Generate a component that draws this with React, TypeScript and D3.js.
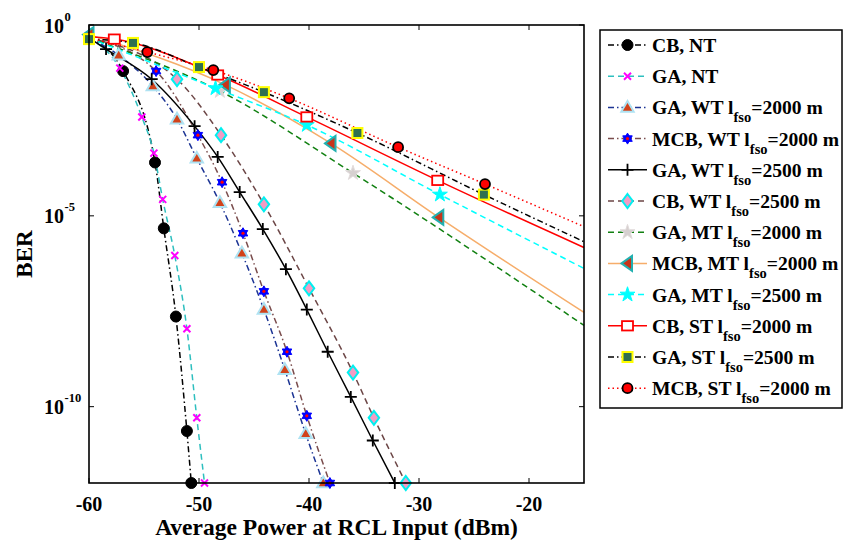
import React from 'react';
import * as d3 from 'd3';

// ---------- data ----------
const X_TICKS = [-60, -50, -40, -30, -20];
const Y_TICK_EXPS = [0, -5, -10];

const cbNtX = [-60, -56.9, -54.0, -53.2, -52.1, -51.1, -50.7];
const cbNtBer = [0.457, 6.2e-2, 2.5e-4, 4.7e-6, 2.3e-8, 2.3e-11, 1e-12];

const gaNtX = [-60, -57.2, -55.2, -54.1, -53.3, -52.2, -51.1, -50.2, -49.5];
const gaNtBer = [0.457, 7.4e-2, 3.9e-3, 4.4e-4, 2.7e-5, 9.1e-7, 1.1e-8, 5.1e-11, 1e-12];

const gaWt2000X = [-60, -57.3, -54.2, -52.0, -50.2, -48.1, -46.1, -44.1, -42.2, -40.3, -38.7];
const gaWt2000Ber = [0.457, 0.162, 2.5e-2, 3.4e-3, 3.2e-4, 2.2e-5, 1.05e-6, 3.5e-8, 9.3e-10, 1.95e-11, 1e-12];

const mcbWt2000X = [-60, -53.9, -50.1, -47.9, -46.0, -44.1, -42.0, -40.2, -38.1];
const mcbWt2000Ber = [0.457, 6.2e-2, 1.3e-3, 7.6e-5, 3.5e-6, 1.05e-7, 2.75e-9, 5.75e-11, 1e-12];

const gaWt2500X = [-60, -58.45, -54.3, -50.4, -48.3, -46.3, -44.2, -42.1, -40.2, -38.3, -36.2, -34.2, -32.2];
const gaWt2500Ber = [0.457, 0.234, 3.8e-2, 2.24e-3, 3.5e-4, 4.2e-5, 4.5e-6, 4.0e-7, 3.5e-8, 2.75e-9, 1.8e-10, 1.3e-11, 1e-12];

const cbWt2500X = [-60, -52.0, -48.0, -44.1, -40.0, -36.0, -34.1, -31.2];
const cbWt2500Ber = [0.457, 3.8e-2, 1.3e-3, 2.0e-5, 1.26e-7, 7.8e-10, 5.1e-11, 1e-12];

const gaMt2000X = [-60, -48.1, -36.0, -15];
const gaMt2000Ber = [0.457, 1.86e-2, 1.32e-4, 1.35e-8];

const mcbMt2000X = [-60, -47.6, -38.0, -28.2, -15];
const mcbMt2000Ber = [0.56, 2.7e-2, 7.9e-4, 9.1e-6, 2.95e-8];

const gaMt2500X = [-60, -48.5, -40.2, -28.1, -15];
const gaMt2500Ber = [0.457, 2.2e-2, 2.4e-3, 3.6e-5, 4.2e-7];

const cbSt2000X = [-60, -57.7, -48.3, -40.2, -28.3, -15];
const cbSt2000Ber = [0.5, 0.427, 4.9e-2, 3.9e-3, 8.5e-5, 1.48e-6];

const gaSt2500X = [-60, -56.0, -50.0, -44.1, -35.6, -24.1, -15];
const gaSt2500Ber = [0.427, 0.339, 7.9e-2, 1.74e-2, 1.48e-3, 3.6e-5, 2.1e-6];

const mcbSt2000X = [-60, -54.7, -48.7, -41.8, -31.9, -24.0, -15];
const mcbSt2000Ber = [0.457, 0.195, 6.6e-2, 1.2e-2, 6.3e-4, 6.8e-5, 5.2e-6];

const LEGEND_MAIN = [
  'CB, NT', 'GA, NT', 'GA, WT l', 'MCB, WT l', 'GA, WT l', 'CB, WT l',
  'GA, MT l', 'MCB, MT l', 'GA, MT l', 'CB, ST l', 'GA, ST l', 'MCB, ST l',
];
const LEGEND_TAIL = [
  '', '', '=2000 m', '=2000 m', '=2500 m', '=2500 m',
  '=2000 m', '=2000 m', '=2500 m', '=2000 m', '=2500 m', '=2000 m',
];

// ---------- styles ----------
const DASH = '6,4';
const DASHDOT = '6,3,1.5,3';
const DOT = '1.5,3';

type S = {
  xs: number[]; ys: number[]; color: string; dash: string | null;
  marker: string; mFill: string; mStroke: string; mSw: number; mSize: number;
  skipFirst: boolean; skipLast: boolean;
};

const series: S[] = [
  { xs: cbNtX, ys: cbNtBer, color: '#000', dash: DASHDOT, marker: 'circle', mFill: '#000', mStroke: '#000', mSw: 1, mSize: 5.5, skipFirst: true, skipLast: false },
  { xs: gaNtX, ys: gaNtBer, color: '#2ebfbf', dash: DASH, marker: 'x', mFill: 'none', mStroke: '#ff00ff', mSw: 2, mSize: 3.5, skipFirst: true, skipLast: false },
  { xs: gaWt2000X, ys: gaWt2000Ber, color: '#1c3494', dash: DASHDOT, marker: 'triUp', mFill: '#d2421a', mStroke: '#aee2f2', mSw: 2, mSize: 6.5, skipFirst: true, skipLast: false },
  { xs: mcbWt2000X, ys: mcbWt2000Ber, color: '#7a4c4c', dash: DASHDOT, marker: 'hexagram', mFill: '#0000ff', mStroke: '#0000ff', mSw: 1, mSize: 5.5, skipFirst: true, skipLast: false },
  { xs: gaWt2500X, ys: gaWt2500Ber, color: '#000', dash: null, marker: 'plus', mFill: 'none', mStroke: '#000', mSw: 1.8, mSize: 6, skipFirst: true, skipLast: false },
  { xs: cbWt2500X, ys: cbWt2500Ber, color: '#6c4646', dash: DASH, marker: 'diamond', mFill: '#f29cc4', mStroke: '#00f0f0', mSw: 2, mSize: 7, skipFirst: true, skipLast: false },
  { xs: gaMt2000X, ys: gaMt2000Ber, color: '#118011', dash: DASH, marker: 'star', mFill: '#d6d0d0', mStroke: '#e2dcdc', mSw: 1, mSize: 5.6, skipFirst: true, skipLast: true },
  { xs: mcbMt2000X, ys: mcbMt2000Ber, color: '#f6ad6a', dash: null, marker: 'triLeft', mFill: '#c8341a', mStroke: '#22b0b0', mSw: 2, mSize: 7.5, skipFirst: false, skipLast: true },
  { xs: gaMt2500X, ys: gaMt2500Ber, color: '#00ffff', dash: DASH, marker: 'star', mFill: '#00ffff', mStroke: '#00ffff', mSw: 1, mSize: 5.6, skipFirst: true, skipLast: true },
  { xs: cbSt2000X, ys: cbSt2000Ber, color: '#ff0000', dash: null, marker: 'squareOpen', mFill: '#fff', mStroke: '#ff0000', mSw: 1.8, mSize: 5.5, skipFirst: true, skipLast: true },
  { xs: gaSt2500X, ys: gaSt2500Ber, color: '#000', dash: DASHDOT, marker: 'square', mFill: '#2f7050', mStroke: '#ffff00', mSw: 2, mSize: 5, skipFirst: false, skipLast: true },
  { xs: mcbSt2000X, ys: mcbSt2000Ber, color: '#ff0000', dash: DOT, marker: 'circle', mFill: '#ff0000', mStroke: '#000', mSw: 1.8, mSize: 5, skipFirst: true, skipLast: true },
];

// ---------- layout ----------
const W = 848, H = 542;
const PL = 89, PR = 584, PT = 25, PB = 483;
const FONT = '"Liberation Serif", "Times New Roman", Times, serif';

const xS = d3.scaleLinear().domain([-60, -15]).range([PL, PR]);
const yS = d3.scaleLog().domain([1e-12, 1]).range([PB, PT]);

function Marker({ s, cx, cy }: { s: S; cx: number; cy: number }) {
  const k = s.mSize;
  const common = { fill: s.mFill, stroke: s.mStroke, strokeWidth: s.mSw };
  switch (s.marker) {
    case 'circle':
      return <circle cx={cx} cy={cy} r={k} {...common} />;
    case 'square':
    case 'squareOpen': {
      const hk = s.marker === 'squareOpen' ? k * 0.85 : k;
      return <rect x={cx - k} y={cy - hk} width={2 * k} height={2 * hk} {...common} />;
    }
    case 'x':
      return <path d={`M${cx - k},${cy - k}L${cx + k},${cy + k}M${cx - k},${cy + k}L${cx + k},${cy - k}`} {...common} />;
    case 'plus':
      return <path d={`M${cx - k},${cy}H${cx + k}M${cx},${cy - k}V${cy + k}`} {...common} />;
    case 'triUp':
      return <path d={`M${cx},${cy - k}L${cx + k * 0.95},${cy + k * 0.65}L${cx - k * 0.95},${cy + k * 0.65}Z`} {...common} />;
    case 'triLeft':
      return <path d={`M${cx - k * 0.8},${cy}L${cx + k * 0.6},${cy - k}L${cx + k * 0.6},${cy + k}Z`} {...common} />;
    case 'diamond':
      return <path d={`M${cx},${cy - k}L${cx + k * 0.75},${cy}L${cx},${cy + k}L${cx - k * 0.75},${cy}Z`} {...common} />;
    case 'hexagram': {
      const a = k, b = k * 0.5, c = k * 0.866;
      return (
        <g>
          <path d={`M${cx},${cy - a}L${cx + c},${cy + b}L${cx - c},${cy + b}Z`} {...common} />
          <path d={`M${cx},${cy + a}L${cx + c},${cy - b}L${cx - c},${cy - b}Z`} {...common} />
          <circle cx={cx} cy={cy} r={1.6} fill="#ff0000" />
        </g>
      );
    }
    case 'star': {
      const p = d3.symbol().type(d3.symbolStar).size(k * k * 2.2)() as string;
      return <path d={p} transform={`translate(${cx},${cy})`} {...common} />;
    }
    default:
      return null;
  }
}

export default function App() {
  const line = d3.line<[number, number]>()
    .x(d => xS(d[0]))
    .y(d => yS(d[1]))
    .curve(d3.curveMonotoneX);

  const legendY = (i: number) => 45 + i * 31.2;

  return (
    <svg width={W} height={H} style={{ position: 'absolute', left: 0, top: 0, background: '#fff' }} fontFamily={FONT}>
      <rect x={0} y={0} width={W} height={H} fill="#fff" />
      {series.map((s, i) => {
        const pts = s.xs.map((v, j) => [v, s.ys[j]] as [number, number]);
        return (
          <path key={'l' + i} d={line(pts) as string} fill="none" stroke={s.color}
            strokeWidth={1.5} strokeDasharray={s.dash || undefined} />
        );
      })}
      {series.map((s, i) => (
        <g key={'m' + i}>
          {s.xs.map((v, j) => {
            if (j === 0 && s.skipFirst) return null;
            if (j === s.xs.length - 1 && s.skipLast) return null;
            return <Marker key={j} s={s} cx={xS(v)} cy={yS(s.ys[j])} />;
          })}
        </g>
      ))}

      <rect x={PL} y={PT} width={PR - PL} height={PB - PT} fill="none" stroke="#000" strokeWidth={1.6} />
      {X_TICKS.map(t => (
        <g key={'xt' + t}>
          <line x1={xS(t)} x2={xS(t)} y1={PB} y2={PB - 5} stroke="#000" strokeWidth={1} />
          <line x1={xS(t)} x2={xS(t)} y1={PT} y2={PT + 5} stroke="#000" strokeWidth={1} />
          <text x={xS(t)} y={511} textAnchor="middle" fontSize={20} fontWeight="bold">{t}</text>
        </g>
      ))}
      {Y_TICK_EXPS.map(e => {
        const yy = yS(Math.pow(10, e));
        return (
          <g key={'yt' + e}>
            <line x1={PL} x2={PL + 5} y1={yy} y2={yy} stroke="#000" strokeWidth={1} />
            <line x1={PR} x2={PR - 5} y1={yy} y2={yy} stroke="#000" strokeWidth={1} />
            <text x={64} y={yy + 7.5} textAnchor="end" fontSize={20} fontWeight="bold">10</text>
            <text x={64.5} y={yy - 4.5} textAnchor="start" fontSize={12.5} fontWeight="bold">{e}</text>
          </g>
        );
      })}
      <text x={(PL + PR) / 2} y={535} textAnchor="middle" fontSize={23.5} fontWeight="bold">Average Power at RCL Input (dBm)</text>
      <text transform={`translate(32,${(PT + PB) / 2}) rotate(-90)`} textAnchor="middle" fontSize={23} fontWeight="bold">BER</text>

      <rect x={600} y={30} width={242} height={378} fill="#fff" stroke="#000" strokeWidth={1.5} />
      {series.map((s, i) => {
        const cy = legendY(i);
        return (
          <g key={'lg' + i}>
            <line x1={608} x2={647} y1={cy} y2={cy} stroke={s.color} strokeWidth={1.5} strokeDasharray={s.dash || undefined} />
            <Marker s={s} cx={627.5} cy={cy} />
            <text x={652} y={cy + 7} fontSize={19.6} fontWeight="bold">
              {LEGEND_MAIN[i]}
              {LEGEND_TAIL[i] ? (
                <>
                  <tspan dy={8} fontSize={14.5}>fso</tspan>
                  <tspan dy={-8} fontSize={19.6}>{LEGEND_TAIL[i]}</tspan>
                </>
              ) : null}
            </text>
          </g>
        );
      })}
    </svg>
  );
}
